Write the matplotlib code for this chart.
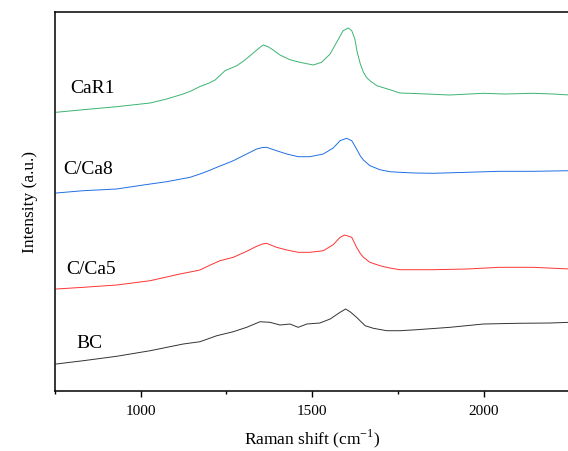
import matplotlib
matplotlib.use("Agg")
import matplotlib.pyplot as plt
from matplotlib.ticker import MultipleLocator

plt.rcParams["font.family"] = ["Liberation Serif", "DejaVu Serif"]
plt.rcParams["mathtext.fontset"] = "custom"
plt.rcParams["mathtext.rm"] = "Liberation Serif"

# Raman spectra (shift in cm-1, stacked intensity in a.u.)
car1_shift = [754, 833, 930, 1028, 1076, 1124, 1150, 1173, 1200, 1217, 1246, 1280, 1300, 1319,
              1335, 1348, 1357, 1370, 1382, 1406, 1435, 1464, 1503, 1527, 1552, 1571, 1590,
              1605, 1615, 1624, 1631, 1640, 1649, 1658, 1668, 1688, 1710, 1726, 1755, 1800,
              1852, 1900, 1998, 2060, 2144, 2200, 2250]
car1_int = [278.7, 281.3, 284.3, 288, 292, 297, 300.5, 304.5, 308, 311, 320.3, 325.3, 330,
            335.3, 340, 343.7, 346, 344.5, 342, 336, 331.3, 328.7, 326, 328.7, 337, 348.7,
            360.3, 363, 360.3, 352, 338.7, 327, 318.7, 313.5, 310.3, 305.3, 303, 301.3, 298,
            297.5, 296.7, 296, 297.7, 297, 297.7, 297, 296]

cca8_shift = [754, 833, 930, 1008, 1076, 1144, 1173, 1200, 1222, 1250, 1270, 1309, 1338,
              1355, 1367, 1396, 1426, 1459, 1493, 1532, 1561, 1581, 1600, 1615, 1629, 1640,
              1649, 1668, 1697, 1726, 1755, 1800, 1852, 1950, 2045, 2144, 2250]
cca8_int = [198, 200.3, 202, 206, 209.3, 213.7, 217, 220.5, 223.7, 227.5, 230.3, 237, 242,
            243.5, 243.7, 240.3, 237, 234.3, 234.3, 237, 243, 250.3, 252.7, 250.3, 242, 235,
            231, 225.3, 221.3, 219.3, 218.7, 218, 217.7, 218.7, 219.7, 219.7, 220.3]

cca5_shift = [754, 833, 930, 1028, 1105, 1173, 1200, 1231, 1270, 1309, 1338, 1355, 1367,
              1396, 1426, 1459, 1493, 1532, 1561, 1581, 1595, 1615, 1629, 1640, 1649, 1668,
              1697, 1726, 1755, 1852, 1950, 2045, 2144, 2250]
cca5_int = [102, 103.7, 106, 110.3, 116.3, 121, 125.5, 130.3, 133.7, 139.7, 144.7, 147,
            147.7, 143.7, 141, 138.7, 138.7, 140.3, 146.3, 153.7, 156, 153.7, 143.7, 137.5,
            133.7, 128.7, 125.3, 123, 121.3, 121.3, 122, 123.7, 123.7, 122]

bc_shift = [754, 833, 930, 1028, 1124, 1173, 1222, 1270, 1309, 1348, 1377, 1406, 1435, 1459,
            1484, 1522, 1552, 1581, 1597, 1610, 1629, 1654, 1678, 1717, 1755, 1804, 1901,
            1998, 2095, 2191, 2250]
bc_int = [27, 30.3, 34.7, 40.3, 47, 49.3, 55.3, 59.3, 63.7, 69.3, 68.7, 66, 67, 63.7,
          67, 68, 72, 78.7, 82, 79.3, 73.7, 65.3, 62.7, 60.3, 60.3, 61.3, 63.7,
          67, 67.7, 68, 68.7]

labels = ["CaR1", "C/Ca8", "C/Ca5", "BC"]
label_x = [795, 774, 783, 812]
label_y = [304, 223, 123, 49]

fig = plt.figure(figsize=(5.68, 4.52), dpi=100)
ax = fig.add_axes([0.0963, 0.1327, 0.9069, 0.8392])

ax.plot(car1_shift, car1_int, color="#3cb371", lw=0.7)
ax.plot(cca8_shift, cca8_int, color="#1f6fe5", lw=0.7)
ax.plot(cca5_shift, cca5_int, color="#ff3333", lw=0.7)
ax.plot(bc_shift, bc_int, color="#333333", lw=0.7)

for name, x, y in zip(labels, label_x, label_y):
    ax.text(x, y, name, fontsize=14, va="center", ha="left")

ax.set_xlim(750, 2250)
ax.set_ylim(0, 379.3)
ax.xaxis.set_major_locator(MultipleLocator(500))
ax.xaxis.set_minor_locator(MultipleLocator(250))
ax.tick_params(axis="x", which="major", direction="out", length=4, width=1, labelsize=11, pad=5)
ax.tick_params(axis="x", which="minor", direction="out", length=2.5, width=1)
ax.set_yticks([])
for s in ax.spines.values():
    s.set_linewidth(1.1)

ax.set_xlabel("Raman shift (cm$^{-1}$)", fontsize=12.5, labelpad=7)
ax.set_ylabel("Intensity (a.u.)", fontsize=12.5, labelpad=12)

fig.savefig("out.png", dpi=100)
